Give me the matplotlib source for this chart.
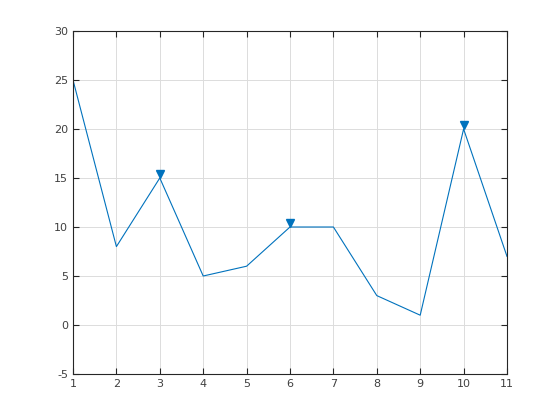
import matplotlib
matplotlib.use("Agg")
import matplotlib.pyplot as plt
import matplotlib.transforms as mtransforms

plt.rcParams["axes.unicode_minus"] = False

# data
x = [1, 2, 3, 4, 5, 6, 7, 8, 9, 10, 11]
y = [25, 8, 15, 5, 6, 10, 10, 3, 1, 20, 7]
peak_x = [3, 6, 10]
peak_y = [15, 10, 20]
xticks = list(range(1, 12))
yticks = [-5, 0, 5, 10, 15, 20, 25, 30]

fig = plt.figure(figsize=(5.6, 4.2), dpi=100)
ax = fig.add_axes([73 / 560, 1 - 374 / 420, (507 - 73) / 560, (374 - 31) / 420])

ax.plot(x, y, color="#0072bd", lw=0.8)

# peak markers sit just above the peaks (tip touches the peak)
offset = mtransforms.offset_copy(ax.transData, fig=fig, x=0, y=2.8, units="points")
ax.plot(peak_x, peak_y, "v", color="#0072bd", ms=6, transform=offset, clip_on=False)

ax.set_xlim(1, 11)
ax.set_ylim(-5, 30)
ax.set_xticks(xticks)
ax.set_yticks(yticks)
ax.grid(True, color="#dcdcdc", lw=0.7)
ax.set_axisbelow(True)

for s in ax.spines.values():
    s.set_color("#262626")
    s.set_linewidth(0.8)
ax.tick_params(direction="in", length=4, width=0.8, colors="#262626",
               labelcolor="#404040", labelsize=8, top=True, right=True)

fig.savefig("out.png", dpi=100)
